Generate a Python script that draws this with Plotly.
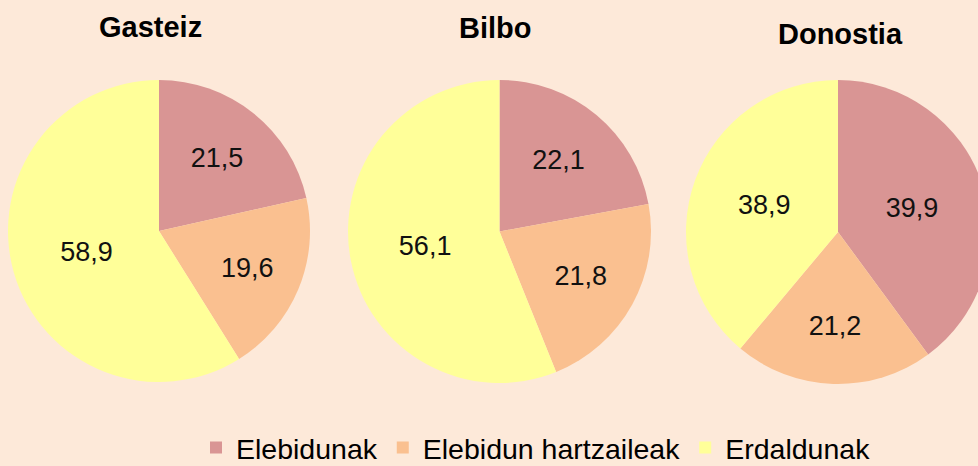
import plotly.graph_objects as go

cities = ["Gasteiz", "Bilbo", "Donostia"]
categories = ["Elebidunak", "Elebidun hartzaileak", "Erdaldunak"]
gasteiz = [21.5, 19.6, 58.9]
bilbo = [22.1, 21.8, 56.1]
donostia = [39.9, 21.2, 38.9]
series = [gasteiz, bilbo, donostia]
colors = ["#D99594", "#FAC090", "#FFFF99"]

W, H = 992, 466  # paper slightly wider than the 978px window so the last pie is cut at the edge
# pixel boxes (left, right, top, bottom) for each pie
boxes = [(8, 310, 80, 382), (348, 651, 80, 383), (686, 990, 80, 384)]
title_pos = [(150, 27), (495, 28), (840, 34)]

fig = go.Figure()
for i, (city, vals) in enumerate(zip(cities, series)):
    l, r, t, b = boxes[i]
    fig.add_trace(go.Pie(
        labels=categories,
        values=vals,
        name=city,
        sort=False,
        direction="clockwise",
        rotation=0,
        marker=dict(colors=colors, line=dict(width=0)),
        texttemplate=[f"{v:.1f}".replace(".", ",") for v in vals],
        textposition="inside",
        insidetextorientation="horizontal",
        textfont=dict(family="Liberation Sans, Arial, sans-serif", size=27, color="#111111"),
        domain=dict(x=[l / W, r / W], y=[1 - b / H, 1 - t / H]),
        showlegend=(i == 0),
        hoverinfo="label+value",
    ))

for city, (x, y) in zip(cities, title_pos):
    fig.add_annotation(
        text=f"<b>{city}</b>", x=x / W, y=1 - y / H, xref="paper", yref="paper",
        showarrow=False, xanchor="center", yanchor="middle",
        font=dict(family="Liberation Sans, Arial, sans-serif", size=29, color="#000000"),
    )

fig.update_layout(
    width=W, height=H,
    margin=dict(l=0, r=0, t=0, b=0, autoexpand=False),
    paper_bgcolor="#FDE9D9",
    plot_bgcolor="#FDE9D9",
    showlegend=True,
    legend=dict(
        orientation="h", x=536 / W, xanchor="center", y=-0.016, yanchor="bottom",
        font=dict(family="Liberation Sans, Arial, sans-serif", size=28.5, color="#000000"),
        bgcolor="rgba(0,0,0,0)", itemclick=False,
    ),
)

fig.write_html(
    "out.html",
    config={"displayModeBar": False},
    post_script="document.body.style.margin='0';document.body.style.overflow='hidden';",
)
